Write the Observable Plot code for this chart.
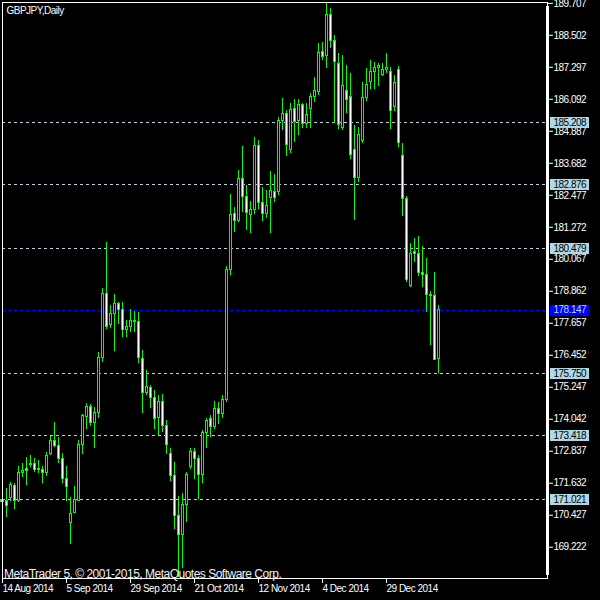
<!DOCTYPE html>
<html>
<head>
<meta charset="utf-8">
<script src="https://cdn.jsdelivr.net/npm/d3@7"></script>
<script src="https://cdn.jsdelivr.net/npm/@observablehq/plot@0.6"></script>
<style>
html, body { margin: 0; padding: 0; background: #000; }
#chart { width: 600px; height: 600px; }
</style>
</head>
<body>
<div id="chart"></div>
<script>
// Daily GBPJPY bars, 14 Aug 2014 onward (index 0 = 14 Aug 2014)
const openP = [171.00,170.95,171.07,171.52,170.96,172.01,172.16,172.31,172.37,172.15,
  172.14,172.03,172.74,173.24,173.04,172.55,171.80,170.13,170.51,170.98,
  173.08,174.12,174.52,173.90,174.27,176.36,178.77,177.60,178.02,178.39,
  178.14,177.41,177.51,177.70,177.71,176.32,175.03,175.23,174.85,174.08,
  174.71,173.77,172.74,171.91,170.38,169.69,170.80,172.24,172.80,172.55,
  171.95,173.53,174.06,173.75,174.41,174.25,174.75,179.65,181.78,181.50,
  183.10,182.41,181.74,181.93,184.34,182.20,181.78,182.38,182.61,182.61,
  185.27,185.55,184.19,185.74,185.27,185.89,185.17,185.74,186.17,186.36,
  187.89,187.72,189.28,188.30,187.43,185.00,186.42,186.17,184.19,183.14,
  184.52,186.15,186.74,187.11,187.28,187.02,187.20,187.11,185.80,187.18,
  183.94,182.35,179.05,180.34,180.25,179.56,179.48,178.74,178.68,176.32];
const highP = [171.05,171.43,171.65,171.61,172.26,172.37,172.59,172.68,172.55,172.49,
  172.26,172.79,173.41,173.93,173.35,172.74,172.26,171.09,171.51,173.24,
  174.22,174.63,174.60,174.47,176.56,178.97,180.70,178.33,178.74,178.45,
  178.45,177.76,178.17,178.11,178.08,176.63,175.88,175.32,175.13,174.93,
  174.98,174.00,172.93,172.43,171.14,171.24,172.05,172.95,172.93,172.68,
  173.62,174.08,174.19,174.71,174.69,174.94,179.80,182.51,182.01,183.41,
  184.32,182.85,182.24,184.65,184.54,182.76,182.66,183.37,183.26,185.42,
  186.12,185.67,185.92,186.09,186.07,185.92,185.92,186.30,186.90,188.18,
  188.22,189.70,189.50,188.50,187.81,187.74,187.37,187.08,185.11,185.02,
  186.74,187.26,187.55,187.48,187.45,187.43,187.81,187.28,186.99,187.33,
  184.44,182.44,180.67,180.84,180.93,180.55,180.09,178.86,179.56,178.33];
const lowP = [170.80,170.36,170.96,170.66,170.92,171.84,171.55,172.22,172.05,172.01,
  171.64,171.89,172.68,172.97,172.37,171.61,170.95,169.33,170.48,170.96,
  172.72,173.66,173.77,172.95,174.08,176.19,177.42,177.45,176.61,177.61,
  177.11,177.11,177.32,177.32,176.16,174.27,174.94,174.44,173.65,173.43,
  173.56,172.71,171.70,169.88,168.08,168.41,170.17,172.15,171.76,171.01,
  171.64,172.93,173.35,173.66,173.85,174.07,174.67,179.46,181.09,181.46,
  181.84,181.15,181.05,181.75,181.93,181.50,181.59,181.05,182.22,182.47,
  184.92,183.95,184.04,184.48,184.73,184.98,184.99,185.00,185.98,186.24,
  187.55,187.26,188.00,185.17,184.94,184.92,185.57,183.81,181.53,182.97,
  184.42,186.01,186.46,186.47,186.59,186.95,187.05,184.94,185.65,184.29,
  181.69,179.21,179.02,179.96,179.43,178.99,178.08,176.82,176.25,175.78];
const closeP = [170.93,170.76,171.55,170.98,172.03,172.11,172.10,172.37,172.14,172.13,
  172.03,172.67,173.24,173.03,172.54,171.80,171.49,170.48,171.01,173.06,
  174.15,174.52,173.90,174.27,176.36,178.77,177.51,178.02,178.39,178.17,
  177.41,177.53,177.76,177.76,176.36,175.04,175.25,174.85,174.06,174.71,
  173.77,173.06,171.90,170.38,169.69,170.80,171.96,172.80,172.55,171.95,
  173.53,173.96,173.75,174.41,174.25,174.75,179.65,181.75,181.50,183.10,
  182.41,181.82,181.93,184.34,182.20,181.78,182.08,182.65,182.38,185.27,
  185.55,184.39,185.70,185.23,185.89,185.17,185.51,186.17,186.42,187.84,
  187.68,189.28,188.30,187.49,185.13,186.61,186.07,184.00,183.14,184.73,
  186.15,186.64,187.14,187.28,187.34,187.20,187.28,185.67,186.72,184.46,
  182.35,179.30,180.25,180.28,179.56,179.48,178.73,178.68,176.28,178.147];

const priceTicks = [189.707,188.502,187.297,186.092,184.887,183.682,182.477,181.272,180.067,
  178.862,177.657,176.452,175.247,174.042,172.837,171.632,170.427,169.222];
const dateTickBars = [0,16,32,48,64,80,96];
const dateTickLabels = ["14 Aug 2014","5 Sep 2014","29 Sep 2014","21 Oct 2014","12 Nov 2014","4 Dec 2014","29 Dec 2014"];
const levelPrices = [185.208,182.876,180.479,175.750,173.418,171.021];
const lastPrice = [178.147];
const chartTitle = "GBPJPY,Daily";
const copyrightText = "MetaTrader 5, \u00a9 2001-2015, MetaQuotes Software Corp.";

const bars = openP.map((o, i) => ({
  i, open: o, high: highP[i], low: lowP[i], close: closeP[i], up: closeP[i] >= o
}));

const labelDx = 6;
function boxed(boxFill) {
  return function(index, scales, values, dimensions, context, next) {
    const g = next(index, scales, values, dimensions, context);
    const left = dimensions.width - dimensions.marginRight + 3 - labelDx - 0.5;
    for (const i of index) {
      const r = document.createElementNS("http://www.w3.org/2000/svg", "rect");
      r.setAttribute("x", left);
      r.setAttribute("y", Math.round(values.y[i]) - 5 - 0.5);
      r.setAttribute("width", 39);
      r.setAttribute("height", 11);
      r.setAttribute("fill", boxFill);
      g.insertBefore(r, g.firstChild);
    }
    return g;
  };
}

const labelFont = "'Liberation Sans', Arial, sans-serif";

const chart = Plot.plot({
  width: 600,
  height: 600,
  marginLeft: 2,
  marginTop: 2,
  marginRight: 53,
  marginBottom: 22,
  style: {background: "#000", color: "#fff", fontFamily: labelFont, fontSize: "10px", letterSpacing: "-0.5px"},
  x: {domain: [0, 136.25], axis: null},
  y: {domain: [168.044, 189.739], axis: null},
  marks: [
    Plot.ruleY(levelPrices, {y: d => d, stroke: "#add8e6", strokeDasharray: "3,3", shapeRendering: "crispEdges"}),
    Plot.ruleY(lastPrice, {y: d => d, stroke: "#0000ff", strokeDasharray: "3,3", shapeRendering: "crispEdges"}),
    Plot.ruleX(bars, {x: "i", y1: "low", y2: "high", stroke: "#00ff00", shapeRendering: "crispEdges"}),
    Plot.rect(bars, {
      x1: d => d.i - 0.25, x2: d => d.i + 0.25, y1: "open", y2: "close",
      fill: d => d.up ? "#000000" : "#ffffff", stroke: "#00ff00", shapeRendering: "crispEdges"
    }),
    Plot.text([chartTitle], {frameAnchor: "top-left", textAnchor: "start", lineAnchor: "top", dx: 4, dy: 4, fill: "#fff"}),
    Plot.text([copyrightText], {
      frameAnchor: "bottom-left", textAnchor: "start", lineAnchor: "bottom", dx: 1.5, dy: -1,
      fill: "#f0f0f0", fontSize: 12
    }),
    Plot.frame({stroke: "#fff", shapeRendering: "crispEdges"}),
    Plot.frame({anchor: "right", stroke: "#fff", strokeWidth: 3, insetTop: 5, insetBottom: 5, shapeRendering: "crispEdges"}),
    Plot.axisY(priceTicks, {anchor: "right", tickSize: 5, tickPadding: 1, tickFormat: d => d.toFixed(3), label: null}),
    Plot.axisX(dateTickBars, {
      anchor: "bottom", tickSize: 5, tickPadding: 1, textAnchor: "start", label: null,
      tickFormat: d => dateTickLabels[dateTickBars.indexOf(d)]
    }),
    Plot.text(levelPrices, {
      y: d => d, frameAnchor: "right", textAnchor: "start", dx: labelDx, text: d => d.toFixed(3),
      fill: "#000", render: boxed("#add8e6")
    }),
    Plot.text(lastPrice, {
      y: d => d, frameAnchor: "right", textAnchor: "start", dx: labelDx, text: d => d.toFixed(3),
      fill: "#add8e6", render: boxed("#0000ff")
    })
  ]
});
document.getElementById("chart").appendChild(chart);
</script>
</body>
</html>
